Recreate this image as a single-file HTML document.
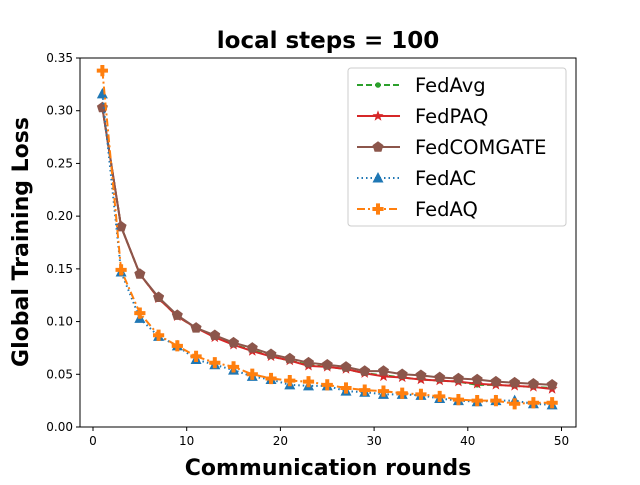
<!DOCTYPE html>
<html><head><meta charset="utf-8"><style>
body{margin:0;background:#fff;}
svg{font-family:"DejaVu Sans","Liberation Sans",sans-serif;}
</style></head><body>
<svg id="chart" width="640" height="480" viewBox="0 0 640 480"></svg>
<script>
const rounds=[1,3,5,7,9,11,13,15,17,19,21,23,25,27,29,31,33,35,37,39,41,43,45,47,49];
const fedAvg=[0.303,0.19,0.145,0.122,0.105,0.094,0.086,0.078,0.073,0.067,0.063,0.059,0.057,0.055,0.051,0.049,0.047,0.045,0.044,0.043,0.040,0.040,0.039,0.038,0.037];
const fedPAQ=[0.303,0.19,0.145,0.122,0.105,0.094,0.085,0.078,0.072,0.067,0.063,0.058,0.057,0.055,0.051,0.048,0.047,0.045,0.044,0.043,0.041,0.040,0.039,0.038,0.036];
const fedCOMGATE=[0.303,0.19,0.145,0.123,0.106,0.094,0.087,0.080,0.075,0.069,0.065,0.061,0.059,0.057,0.053,0.053,0.050,0.049,0.047,0.046,0.045,0.043,0.042,0.041,0.040];
const fedAC=[0.316,0.147,0.103,0.086,0.077,0.064,0.059,0.054,0.048,0.045,0.040,0.039,0.039,0.034,0.033,0.031,0.031,0.030,0.027,0.025,0.024,0.025,0.025,0.022,0.021];
const fedAQ=[0.338,0.149,0.108,0.087,0.077,0.067,0.061,0.057,0.050,0.046,0.044,0.043,0.040,0.037,0.035,0.034,0.032,0.031,0.029,0.026,0.025,0.025,0.022,0.023,0.023];
const xTicks=[0,10,20,30,40,50];
const yTicks=[0,0.05,0.10,0.15,0.20,0.25,0.30,0.35];
const NS='http://www.w3.org/2000/svg';
const svg=document.getElementById('chart');
const L=80,R=576,T=58,B=427;
const xs=v=>93+v*9.37;
const ys=v=>B-(v/0.35)*(B-T);
function mk(tag,attrs,parent){const e=document.createElementNS(NS,tag);for(const k in attrs)e.setAttribute(k,attrs[k]);(parent||svg).appendChild(e);return e;}
const title=mk('text',{x:328,y:48,'text-anchor':'middle','font-size':23,'font-weight':'bold'});title.textContent='local steps = 100';


xTicks.forEach(t=>{mk('line',{x1:xs(t),x2:xs(t),y1:B,y2:B+4,stroke:'#000'});const tx=mk('text',{x:xs(t),y:B+18,'text-anchor':'middle','font-size':12});tx.textContent=t;

});
yTicks.forEach(t=>{mk('line',{x1:L-4,x2:L,y1:ys(t),y2:ys(t),stroke:'#000'});const tx=mk('text',{x:L-7,y:ys(t)+4,'text-anchor':'end','font-size':12});tx.textContent=t.toFixed(2);

});
const xt=mk('text',{x:328,y:475,'text-anchor':'middle','font-size':22,'font-weight':'bold'});xt.textContent='Communication rounds';


const yt=mk('text',{x:0,y:0,'text-anchor':'middle','font-size':22,'font-weight':'bold',transform:'translate(28,242) rotate(-90)'});yt.textContent='Global Training Loss';


function marker(type,x,y,c,g){
 if(type==='o')return mk('circle',{cx:x,cy:y,r:2.8,fill:c},g);
 if(type==='^')return mk('polygon',{points:`${x},${y-6} ${x-5.5},${y+4.5} ${x+5.5},${y+4.5}`,fill:c},g);
 if(type==='p'){let p=[];for(let i=0;i<5;i++){const a=-Math.PI/2+i*2*Math.PI/5;p.push((x+5.8*Math.cos(a)).toFixed(1)+','+(y+5.8*Math.sin(a)).toFixed(1));}return mk('polygon',{points:p.join(' '),fill:c},g);}
 if(type==='*'){let p=[];for(let i=0;i<10;i++){const a=-Math.PI/2+i*Math.PI/5,r=i%2?2.4:5.8;p.push((x+r*Math.cos(a)).toFixed(1)+','+(y+r*Math.sin(a)).toFixed(1));}return mk('polygon',{points:p.join(' '),fill:c},g);}
 if(type==='P')return mk('path',{d:`M${x-2},${y-5.6}h4v3.6h3.6v4h-3.6v3.6h-4v-3.6h-3.6v-4h3.6z`,fill:c},g);
}
const series=[
 {name:'FedAvg',data:fedAvg,c:'#2ca02c',dash:'6,3',m:'o'},
 {name:'FedPAQ',data:fedPAQ,c:'#d62728',dash:'',m:'*'},
 {name:'FedCOMGATE',data:fedCOMGATE,c:'#8c564b',dash:'',m:'p'},
 {name:'FedAC',data:fedAC,c:'#1f77b4',dash:'1.5,3',m:'^'},
 {name:'FedAQ',data:fedAQ,c:'#ff7f0e',dash:'8,3,2,3',m:'P'}
];
series.forEach((s,si)=>{
 const g=mk('g',{});
 
 
 mk('polyline',{points:s.data.map((v,i)=>xs(rounds[i])+','+ys(v)).join(' '),fill:'none',stroke:s.c,'stroke-width':2,'stroke-dasharray':s.dash},g);
 s.data.forEach((v,i)=>{const m=marker(s.m,xs(rounds[i]),ys(v),s.c,g);
 
 });
});
mk('rect',{x:L,y:T,width:R-L,height:B-T,fill:'none',stroke:'#000','stroke-width':1});
const lg=mk('g',{});


mk('rect',{x:348,y:68,width:218,height:158,rx:3,fill:'#fff',stroke:'#ccc'},lg);
series.forEach((s,i)=>{
 const y=85+i*31;
 const e=mk('g',{},lg);
 
 
 mk('line',{x1:357,x2:400,y1:y,y2:y,stroke:s.c,'stroke-width':2,'stroke-dasharray':s.dash},e);
 marker(s.m,378,y,s.c,e);
 const t=mk('text',{x:415,y:y+7,'font-size':19.5},e);t.textContent=s.name;
});
</script>
</body></html>
